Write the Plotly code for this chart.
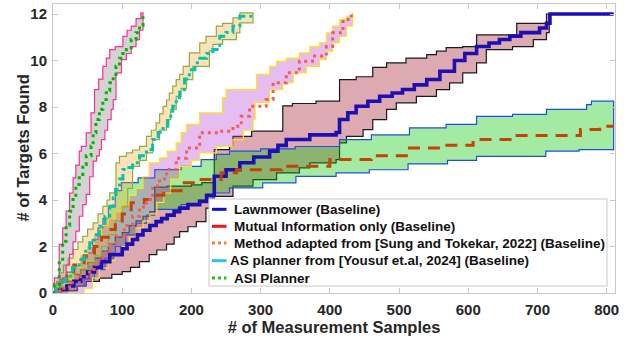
import plotly.graph_objects as go

FONT = "Liberation Sans"

# ---------------- data: step curves (x = sample count, y = targets found) ----------------
# Lawnmower (Baseline)
lm_up_x = [0, 10, 20, 30, 40, 50, 60, 70, 80, 90, 100, 110, 120, 130, 140, 147, 165, 200, 215, 233, 255, 260, 287, 332, 346, 380, 414, 438, 462, 482, 510, 540, 554, 568, 592, 612, 670, 713, 810]
lm_up_y = [0, 0.3, 0.5, 0.8, 1.0, 1.3, 1.5, 1.8, 2.1, 2.4, 2.6, 2.9, 3.1, 3.3, 3.5, 4.55, 4.6, 4.65, 4.75, 6.17, 6.3, 6.74, 6.96, 8.05, 8.15, 8.25, 9.18, 9.3, 9.7, 9.9, 10.1, 10.25, 10.4, 10.55, 10.6, 11.1, 11.6, 12.0, 12.0]
lm_lo_x = [0, 20, 35, 48, 67, 85, 100, 112, 125, 139, 150, 164, 175, 183, 195, 207, 221, 231, 260, 289, 323, 356, 371, 409, 414, 424, 448, 462, 482, 496, 525, 554, 573, 592, 612, 626, 664, 694, 713, 717, 810]
lm_lo_y = [0, 0.1, 0.3, 0.5, 0.64, 0.8, 0.92, 1.1, 1.35, 1.65, 1.85, 2.1, 2.4, 2.64, 2.85, 3.07, 3.65, 4.16, 4.6, 4.88, 5.17, 5.38, 5.6, 5.74, 6.46, 6.74, 7.03, 7.46, 7.9, 8.18, 8.46, 8.75, 9.04, 9.47, 9.9, 10.47, 10.6, 10.9, 11.2, 12.0, 12.0]
lm_mean_x = [0, 10, 20, 30, 40, 50, 60, 70, 82, 100, 107, 115, 122, 130, 140, 149, 157, 165, 175, 183, 195, 212, 222, 233, 250, 270, 290, 313, 325, 337, 371, 409, 414, 426, 438, 455, 472, 490, 505, 522, 540, 559, 580, 595, 612, 630, 645, 660, 676, 703, 713, 718, 810]
lm_mean_y = [0, 0.15, 0.3, 0.5, 0.7, 0.9, 1.1, 1.35, 1.65, 1.9, 2.1, 2.3, 2.5, 2.7, 2.9, 3.07, 3.2, 3.35, 3.5, 3.65, 3.8, 3.94, 4.2, 5.02, 5.3, 5.6, 5.85, 6.1, 6.35, 6.6, 6.8, 6.9, 7.46, 7.75, 8.03, 8.25, 8.46, 8.6, 8.75, 8.95, 9.18, 9.54, 10.0, 10.3, 10.6, 10.75, 10.9, 11.05, 11.2, 11.4, 11.6, 12.0, 12.0]

# Mutual Information only (Baseline)
mi_up_x = [0, 5, 10, 20, 31, 40, 50, 57, 65, 72, 80, 90, 99, 123, 147, 185, 214, 236, 255, 300, 350, 414, 460, 515, 568, 612, 664, 713, 771, 778, 810]
mi_up_y = [0, 0.4, 0.6, 0.9, 1.15, 1.5, 1.73, 2.3, 2.8, 3.2, 3.7, 4.4, 4.75, 4.95, 5.31, 5.45, 5.74, 5.96, 6.1, 6.2, 6.3, 6.6, 6.8, 7.1, 7.25, 7.6, 7.68, 7.9, 8.1, 8.25, 8.25]
mi_lo_x = [0, 15, 30, 45, 60, 75, 90, 105, 120, 135, 147, 185, 210, 233, 255, 303, 351, 409, 457, 513, 570, 612, 712, 760, 810]
mi_lo_y = [0, 0.1, 0.3, 0.6, 1.0, 1.5, 2.0, 2.5, 3.0, 3.35, 3.6, 3.8, 4.0, 4.3, 4.52, 4.74, 5.02, 5.17, 5.3, 5.55, 5.7, 5.88, 6.1, 6.17, 6.17]
mi_mean_x = [0, 10, 20, 30, 45, 60, 70, 80, 90, 100, 113, 132, 145, 160, 185, 214, 243, 265, 330, 400, 460, 515, 560, 607, 665, 762, 790, 810]
mi_mean_y = [0, 0.5, 0.9, 1.2, 1.6, 2.0, 2.4, 2.73, 3.1, 3.4, 3.88, 4.02, 4.2, 4.4, 4.74, 4.88, 5.17, 5.3, 5.45, 5.74, 5.9, 6.24, 6.35, 6.6, 6.77, 7.03, 7.17, 7.17]

# Method adapted from [Sung and Tokekar, 2022] (Baseline)
st_up_x = [0, 10, 20, 30, 40, 50, 60, 70, 80, 90, 100, 110, 120, 130, 139, 154, 165, 178, 185, 193, 212, 245, 250, 289, 294, 313, 323, 337, 356, 371, 385, 395, 404, 414, 424, 433]
st_up_y = [0, 0.3, 0.6, 1.1, 1.6, 2.0, 2.5, 2.9, 3.2, 3.5, 3.8, 4.2, 4.5, 5.0, 5.6, 5.81, 6.1, 6.46, 6.9, 7.25, 7.75, 8.4, 8.75, 8.75, 9.4, 9.75, 9.97, 10.1, 10.33, 10.6, 10.76, 11.19, 11.48, 11.76, 11.9, 12.05]
st_lo_x = [0, 35, 45, 57, 67, 80, 90, 100, 110, 120, 130, 140, 150, 160, 170, 183, 200, 212, 236, 260, 275, 289, 292, 313, 332, 347, 366, 385, 395, 404, 414, 424, 433]
st_lo_y = [0, 0, 0.2, 0.64, 1.07, 1.4, 1.7, 2.0, 2.4, 2.8, 3.1, 3.4, 3.9, 4.3, 4.9, 5.45, 5.7, 6.03, 6.31, 6.6, 7.0, 7.46, 8.2, 8.75, 9.04, 9.47, 9.75, 10.04, 10.4, 10.76, 11.04, 11.48, 11.76]
st_mean_x = [0, 10, 24, 38, 53, 62, 72, 82, 91, 103, 115, 125, 135, 144, 154, 164, 178, 193, 212, 236, 260, 272, 284, 308, 318, 337, 356, 375, 395, 404, 419, 431]
st_mean_y = [0, 0.2, 0.44, 0.7, 1.01, 1.4, 1.73, 2.1, 2.44, 2.9, 3.3, 3.7, 4.02, 4.6, 4.9, 5.31, 5.8, 6.24, 6.89, 6.96, 7.17, 7.6, 8.03, 8.32, 9.04, 9.47, 9.97, 10.19, 10.6, 11.19, 11.76, 11.98]

# AS planner from [Yousuf et.al, 2024] (Baseline)
as_up_x = [0, 5, 9, 15, 22, 29, 36, 43, 50, 58, 65, 72, 78, 82, 89, 91, 96, 106, 115, 125, 135, 142, 149, 154, 159, 164, 168, 173, 178, 183, 188, 197, 212, 221, 236, 245, 260, 270, 289]
as_up_y = [0, 0.5, 0.87, 1.2, 1.5, 1.87, 2.2, 2.44, 2.75, 3.02, 3.4, 3.73, 4.0, 4.31, 4.5, 5.6, 5.88, 6.03, 6.15, 6.31, 6.74, 7.0, 7.32, 7.7, 8.03, 8.3, 8.6, 8.9, 9.18, 9.4, 9.75, 10.33, 10.76, 11.04, 11.48, 11.6, 11.83, 12.05, 12.05]
as_lo_x = [0, 15, 20, 30, 40, 50, 60, 70, 80, 90, 100, 108, 115, 125, 135, 144, 154, 164, 170, 178, 185, 193, 202, 226, 231, 245, 265, 270, 289]
as_lo_y = [0, 0, 0.15, 0.5, 0.8, 1.2, 1.6, 2.0, 2.5, 3.1, 3.7, 4.5, 5.45, 5.7, 6.03, 6.6, 7.0, 7.46, 7.9, 8.46, 8.8, 9.18, 9.75, 10.4, 10.69, 10.9, 11.19, 11.62, 11.69]
as_mean_x = [0, 5, 10, 19, 28, 38, 45, 53, 60, 67, 75, 82, 87, 91, 96, 101, 106, 115, 125, 135, 144, 152, 159, 166, 173, 178, 183, 190, 197, 205, 212, 222, 231, 241, 250, 260, 270, 289]
as_mean_y = [0, 0.3, 0.5, 0.72, 1.1, 1.44, 1.8, 2.16, 2.5, 2.87, 3.3, 3.73, 4.1, 4.45, 4.9, 5.31, 5.4, 5.6, 5.9, 6.17, 6.6, 6.9, 7.17, 7.6, 8.03, 8.4, 8.75, 9.2, 9.6, 9.9, 10.1, 10.3, 10.47, 11.04, 11.2, 11.48, 11.9, 11.94]

# ASI Planner
asi_up_x = [0, 2, 9, 14, 19, 24, 29, 33, 38, 41, 48, 55, 60, 66, 72, 77, 82, 90, 101, 107, 113, 120, 127, 130]
asi_up_y = [0, 0.65, 2.09, 2.8, 3.52, 4.3, 4.95, 5.5, 6.1, 6.31, 6.89, 7.75, 8.75, 9.2, 9.75, 10.1, 10.47, 10.6, 11.04, 11.3, 11.48, 11.8, 12.05, 12.05]
asi_lo_x = [0, 5, 10, 14, 19, 24, 29, 33, 38, 43, 48, 53, 58, 63, 67, 70, 75, 79, 84, 87, 91, 99, 106, 113, 120, 125, 130]
asi_lo_y = [0, 0.08, 0.4, 0.65, 1.2, 1.66, 2.2, 2.66, 3.3, 3.8, 4.24, 5.0, 5.67, 5.9, 6.17, 6.6, 7.0, 7.46, 7.9, 8.32, 9.47, 10.04, 10.3, 10.6, 10.9, 11.3, 11.76]
asi_mean_x = [0, 2, 9, 14, 19, 24, 29, 33, 38, 43, 48, 55, 58, 62, 67, 72, 77, 82, 87, 91, 96, 101, 106, 113, 120, 125, 130]
asi_mean_y = [0, 0.37, 1.37, 2.23, 2.9, 3.52, 4.1, 4.67, 5.1, 5.53, 5.9, 6.31, 6.89, 7.46, 7.9, 8.32, 8.7, 9.04, 9.4, 9.75, 10.1, 10.3, 10.47, 10.9, 11.19, 11.5, 11.9]

legend_labels = [
    "Lawnmower (Baseline)",
    "Mutual Information only (Baseline)",
    "Method adapted from [Sung and Tokekar, 2022] (Baseline)",
    "AS planner from [Yousuf et.al, 2024] (Baseline)",
    "ASI Planner",
]

x_ticks = [0, 100, 200, 300, 400, 500, 600, 700, 800]
y_ticks = [0, 2, 4, 6, 8, 10, 12]


def steps(x, y):
    """Expand breakpoints into a stair-step outline (horizontal, then vertical)."""
    xs, ys = [x[0]], [y[0]]
    for i in range(1, len(x)):
        xs += [x[i], x[i]]
        ys += [y[i - 1], y[i]]
    return xs, ys


def band(xu, yu, xl, yl):
    ux, uy = steps(xu, yu)
    lx, ly = steps(xl, yl)
    return ux + lx[::-1], uy + ly[::-1]


fig = go.Figure()

# (upper x, upper y, lower x, lower y, fill, edge, name)
bands = [
    (lm_up_x, lm_up_y, lm_lo_x, lm_lo_y, "rgba(154,11,29,0.35)", "#1a1a1a", legend_labels[0]),
    (mi_up_x, mi_up_y, mi_lo_x, mi_lo_y, "rgba(0,200,0,0.36)", "#1f4fe0", legend_labels[1]),
    (st_up_x, st_up_y, st_lo_x, st_lo_y, "rgba(183,66,211,0.35)", "#ffe21a", legend_labels[2]),
    (as_up_x, as_up_y, as_lo_x, as_lo_y, "rgba(249,171,51,0.35)", "#93ab45", legend_labels[3]),
    (asi_up_x, asi_up_y, asi_lo_x, asi_lo_y, "rgba(128,128,128,0.35)", "#ff2d9b", legend_labels[4]),
]
for xu, yu, xl, yl, fc, ec, nm in bands:
    bx, by = band(xu, yu, xl, yl)
    fig.add_trace(go.Scatter(x=bx, y=by, mode="lines", fill="toself", fillcolor=fc,
                             line=dict(color=ec, width=1.2), name=nm, showlegend=False,
                             hoverinfo="skip"))

# mean curves
means = [
    (lm_mean_x, lm_mean_y, "#1d0fb0", 3.6, "solid", legend_labels[0]),
    (mi_mean_x, mi_mean_y, "#c44406", 3, "12px,8px", legend_labels[1]),
    (st_mean_x, st_mean_y, "#f25c5c", 3, "3px,4px", legend_labels[2]),
    (as_mean_x, as_mean_y, "#00c4ae", 3, "9px,4px,3px,4px", legend_labels[3]),
    (asi_mean_x, asi_mean_y, "#00b400", 3, "3px,4px", legend_labels[4]),
]
for mx, my, c, w, d, nm in means:
    fig.add_trace(go.Scatter(x=mx, y=my, mode="lines", line=dict(color=c, width=w, dash=d, shape="hv"),
                             name=nm, showlegend=False))

# ---------------- legend box ----------------
L, R, T, B = 53, 615, 4, 293


def px(v):
    return (v - L) / (R - L)


def py(v):
    return (B - v) / (B - T)


shapes = [dict(type="rect", xref="paper", yref="paper", x0=px(209), x1=px(607), y0=py(286), y1=py(199),
               line=dict(color="#c8c8c8", width=1), fillcolor="white", layer="above")]
leg_marks = [("#0a10d0", "solid"), ("#ff1010", "solid"), ("#ff7f2a", "dot"), ("#22c4f0", "solid"), ("#10d010", "dot")]
rows = [209.3, 226.3, 243.0, 260.7, 278.0]
annotations = []
for (c, d), r, lab in zip(leg_marks, rows, legend_labels):
    shapes.append(dict(type="line", xref="paper", yref="paper", x0=px(212), x1=px(226.5), y0=py(r), y1=py(r),
                       line=dict(color=c, width=3, dash=d), layer="above"))
    tx = 228 if lab.startswith("AS planner") else 232
    annotations.append(dict(xref="paper", yref="paper", x=px(tx), y=py(r), text=lab, showarrow=False,
                            xanchor="left", yanchor="middle",
                            font=dict(family=FONT, size=13.5, color="#111111", weight="bold")))

# y-axis title, placed beside the tick labels
annotations.append(dict(xref="paper", yref="paper", x=px(22), y=0.5, text="# of Targets Found",
                        textangle=-90, showarrow=False, xanchor="center", yanchor="middle",
                        font=dict(family=FONT, size=16.5, color="#262626", weight="bold")))

axis_common = dict(showline=True, linecolor="#c8c8c8", linewidth=1, mirror="allticks", ticks="inside",
                   ticklen=5, tickcolor="#c8c8c8", showgrid=False, zeroline=False,
                   tickfont=dict(family=FONT, size=15, color="#262626", weight="bold"))

fig.update_layout(
    width=639, height=344,
    margin=dict(l=L, r=639 - R, t=T, b=344 - B),
    plot_bgcolor="white", paper_bgcolor="white",
    showlegend=False,
    shapes=shapes, annotations=annotations,
    xaxis=dict(range=[0, 812], tickvals=x_ticks, ticklabelstandoff=3,
               title=dict(text="# of Measurement Samples", standoff=2,
                          font=dict(family=FONT, size=16.5, color="#262626", weight="bold")),
               **axis_common),
    yaxis=dict(range=[0, 12.43], tickvals=y_ticks, ticklabelstandoff=2, **axis_common),
)

fig.write_html("out.html")
